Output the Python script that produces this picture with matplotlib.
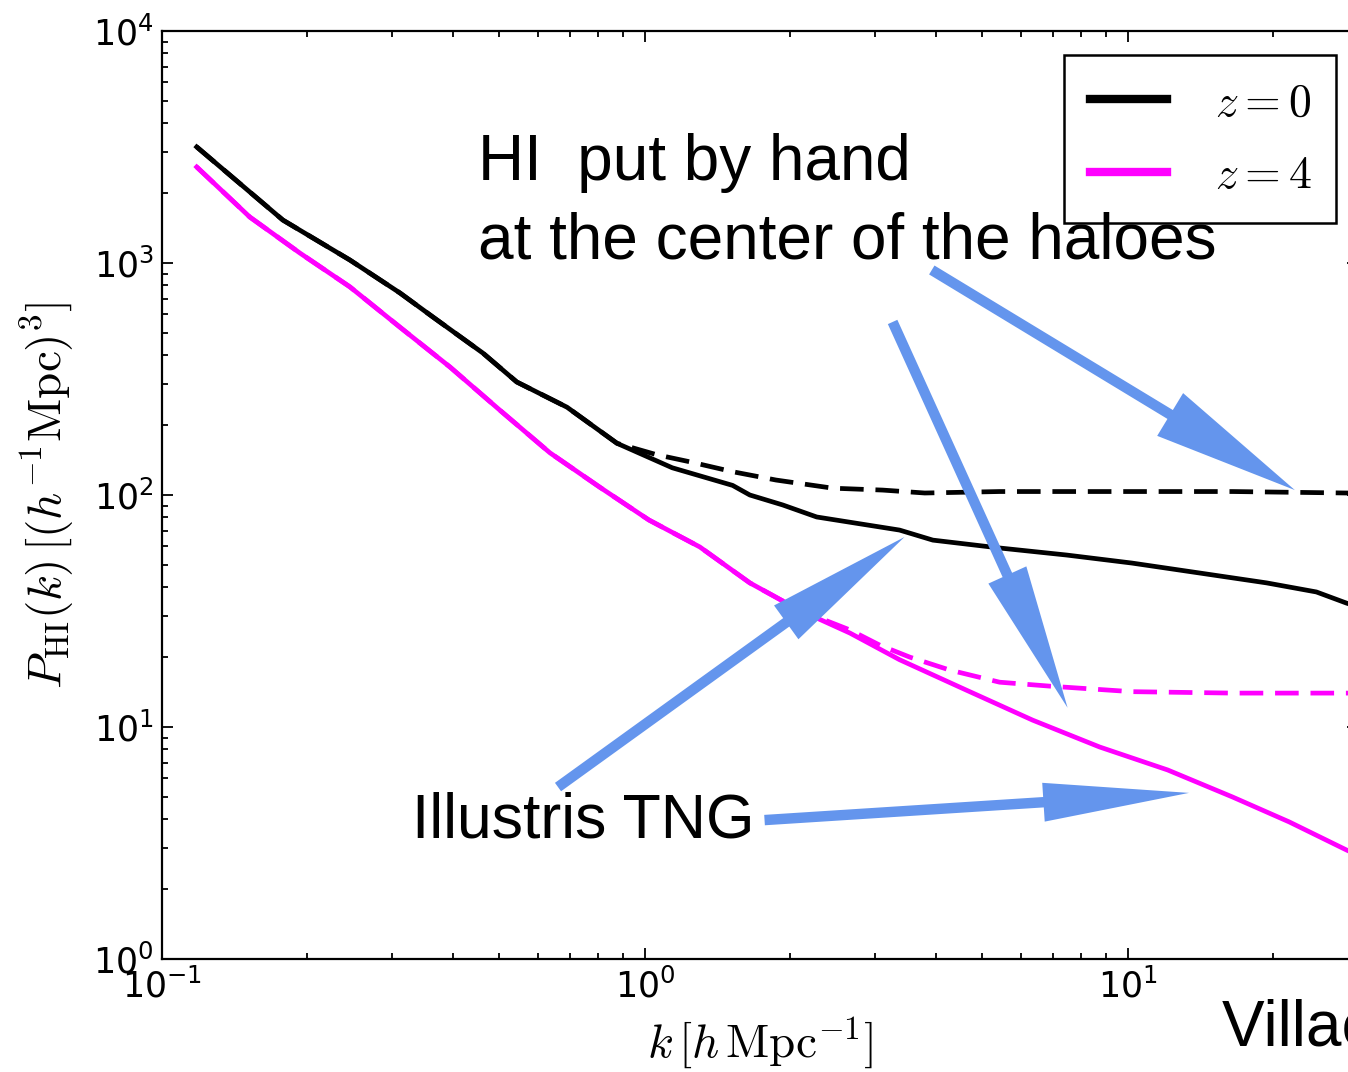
import numpy as np
import matplotlib
matplotlib.use("Agg")
import matplotlib.pyplot as plt
from matplotlib.patches import FancyArrowPatch

plt.rcParams['mathtext.fontset'] = 'cm'
plt.rcParams['font.family'] = 'DejaVu Sans'

# HI power spectrum, Illustris TNG (solid)
k_tng_z0 = [0.118, 0.178, 0.245, 0.311, 0.364, 0.462, 0.543, 0.690, 0.876, 1.14,
            1.52, 1.65, 1.93, 2.27, 3.37, 3.95, 5.43, 7.48, 10.2, 14.1, 19.4, 24.6, 28.4, 30.0]
p_tng_z0 = [3165, 1531, 1030, 743, 585, 409, 307, 239, 167, 131,
            110, 100, 90.6, 80.4, 70.6, 63.9, 59.1, 55.1, 50.9, 46.1, 41.8, 38.2, 34.2, 33.0]

k_tng_z4 = [0.118, 0.152, 0.193, 0.245, 0.311, 0.395, 0.501, 0.636, 0.807, 1.02,
            1.30, 1.65, 2.09, 2.66, 3.37, 4.64, 6.36, 8.75, 12.1, 16.5, 21.6, 28.4, 30.0]
p_tng_z4 = [2594, 1578, 1104, 789, 529, 356, 232, 152, 108, 78,
            59.7, 41.8, 31.9, 25.4, 19.5, 14.4, 10.7, 8.2, 6.53, 4.99, 3.90, 2.95, 2.80]

# HI placed at halo centres (dashed)
k_halo_z0 = [0.118, 0.178, 0.245, 0.311, 0.364, 0.462, 0.543, 0.690, 0.876, 1.06,
             1.24, 1.52, 1.87, 2.45, 3.11, 3.80, 5.43, 10.2, 16.5, 28.4, 30.0]
p_halo_z0 = [3165, 1531, 1030, 743, 585, 409, 307, 239, 167, 149,
             139, 126, 116, 107, 105, 102, 103.5, 103.5, 103.5, 102, 102]

k_halo_z4 = [0.118, 0.152, 0.193, 0.245, 0.311, 0.395, 0.501, 0.636, 0.807, 1.02,
             1.30, 1.65, 2.09, 2.66, 3.07, 3.54, 4.28, 5.43, 6.90, 10.2, 16.5, 28.4, 30.0]
p_halo_z4 = [2594, 1578, 1104, 789, 529, 356, 232, 152, 108, 78,
             59.7, 41.8, 31.9, 26.2, 22.5, 20.0, 17.6, 15.6, 15.0, 14.2, 14.0, 14.0, 14.0]

# arrows: (tail k, tail P) -> (tip k, tip P), head width in points
arrows = [((3.93, 933), (22.2, 105), 36),
          ((3.26, 557), (7.51, 12.1), 30),
          ((0.661, 5.51), (3.45, 65.9), 30),
          ((1.77, 3.97), (13.4, 5.20), 28)]
arrow_color = '#6495ED'
magenta = '#FF00FF'

W, H = 1348, 1072
fig = plt.figure(figsize=(W / 100, H / 100), dpi=100)
ax = fig.add_axes([162 / W, 1 - 959 / H, 1196 / W, 928 / H])

lw = 3.4
ax.plot(k_halo_z0, p_halo_z0, color='k', lw=lw, dashes=(5, 2.5))
ax.plot(k_halo_z4, p_halo_z4, color=magenta, lw=lw, dashes=(5, 2.5))
ax.plot(k_tng_z0, p_tng_z0, color='k', lw=lw, label=r'$z=0$')
ax.plot(k_tng_z4, p_tng_z4, color=magenta, lw=lw, label=r'$z=4$')

ax.set_xscale('log')
ax.set_yscale('log')
ax.set_xlim(0.1, 30)
ax.set_ylim(1, 1e4)

for side in ax.spines.values():
    side.set_linewidth(1.6)
ax.tick_params(which='both', direction='in', top=True, right=True, width=1.3)
ax.tick_params(which='major', length=8, labelsize=25)
ax.tick_params(which='minor', length=4.5)
ax.tick_params(axis='y', which='major', pad=6)
ax.tick_params(axis='x', which='major', pad=7)

ax.set_xlabel(r'$k\,[h\,{\rm Mpc}^{-1}]$', fontsize=34)
ax.set_ylabel(r'$P_{\rm HI}(k)\,[(h^{-1}{\rm Mpc})^3]$', fontsize=34)
ax.xaxis.set_label_coords(0.5, -0.06)
ax.yaxis.set_label_coords(-0.072, 0.5)

leg = ax.legend(loc='upper right', bbox_to_anchor=(0.982, 0.974), borderaxespad=0,
                fontsize=33, handlelength=1.68, handletextpad=1.05, labelspacing=0.6,
                borderpad=0.55, fancybox=False, framealpha=1, edgecolor='k')
leg.get_frame().set_linewidth(1.8)
for line in leg.get_lines():
    line.set_linewidth(6)

for (k0, p0), (k1, p1), hw in arrows:
    arr = FancyArrowPatch((k0, p0), (k1, p1),
                          arrowstyle=f'simple,head_length=105,head_width={hw},tail_width=7.5',
                          mutation_scale=1, shrinkA=0, shrinkB=0,
                          color=arrow_color, lw=0, zorder=5)
    ax.add_patch(arr)

txt = dict(family='Liberation Sans', fontsize=46, color='k', va='baseline', zorder=10)
fig.text(478 / W, 1 - 180 / H, 'HI  put by hand', **txt)
fig.text(478 / W, 1 - 258 / H, 'at the center of the haloes', **txt)
fig.text(412 / W, 1 - 838 / H, 'Illustris TNG', **dict(txt, fontsize=45))
fig.text(1222 / W, 1 - 1045 / H, 'Villaescusa-Navarro et al. 2018', **txt)

fig.savefig('out.png', dpi=100)
